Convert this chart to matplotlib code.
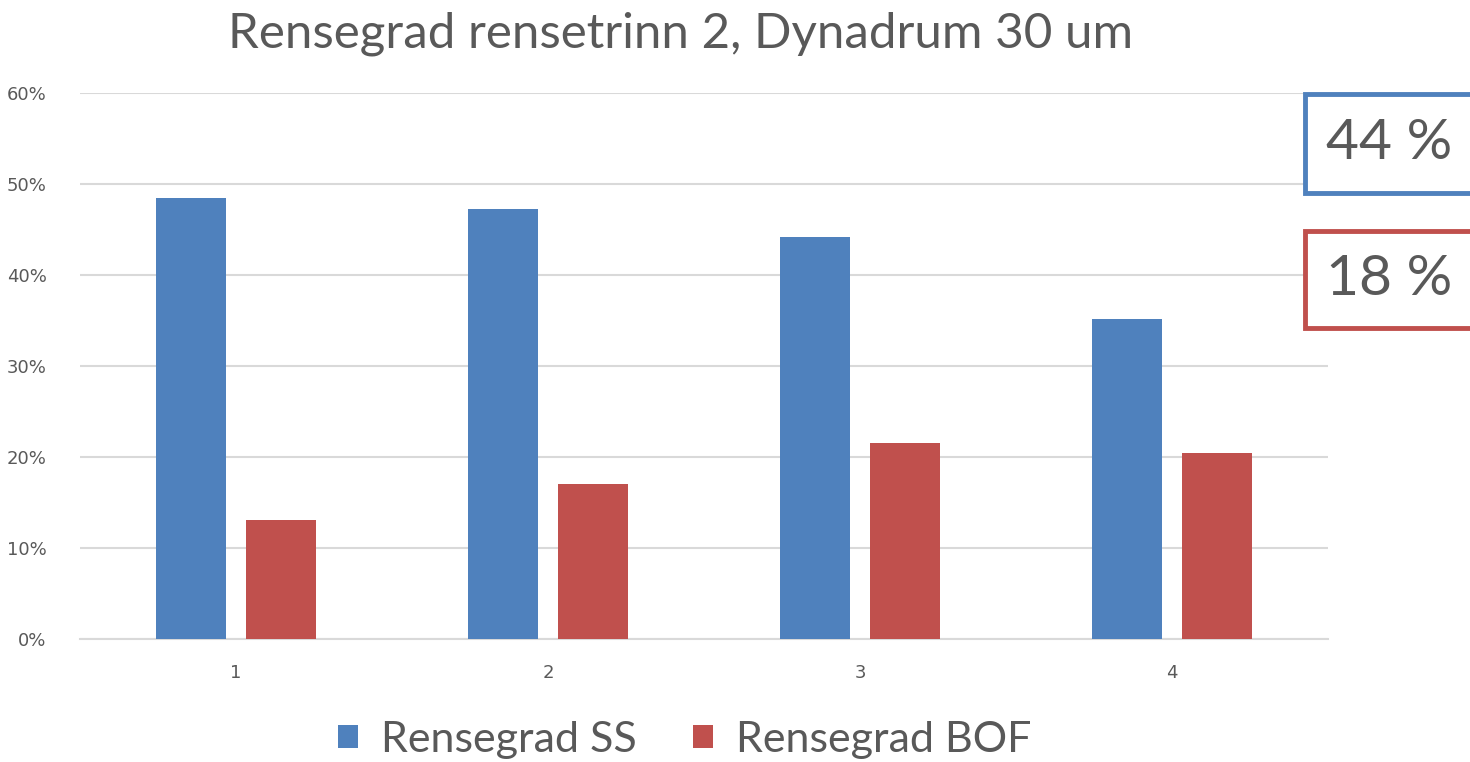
"""
Rensegrad rensetrinn 2 - bar chart recreation.
"""

import matplotlib
matplotlib.use("Agg")
import matplotlib.pyplot as plt
from matplotlib.patches import Rectangle
from matplotlib.ticker import PercentFormatter
import numpy as np


# ============================================================
# Data
# ============================================================

categories = ["1", "2", "3", "4"]
rensegrad_ss = [0.485, 0.473, 0.442, 0.352]
rensegrad_bof = [0.131, 0.170, 0.215, 0.204]
y_ticks = [0.0, 0.1, 0.2, 0.3, 0.4, 0.5, 0.6]

summary_labels = ["44 %", "18 %"]

BLUE = "#4f81bd"
RED = "#c0504d"
TEXT = "#595959"
GRID = "#d9d9d9"

TITLE_FONT = ["Lato", "DejaVu Sans"]


# ============================================================
# Plotting
# ============================================================

def main() -> None:
    fig = plt.figure(figsize=(14.7, 7.62), dpi=100)
    ax = fig.add_axes([80 / 1470, 1 - 639 / 762, 1248 / 1470, 546 / 762])

    x = np.arange(1, len(categories) + 1)
    width = 0.224
    offset = 0.143

    ax.bar(x - offset, rensegrad_ss, width, color=BLUE, label="Rensegrad SS", zorder=3)
    ax.bar(x + offset, rensegrad_bof, width, color=RED, label="Rensegrad BOF", zorder=3)

    ax.set_xlim(0.5, len(categories) + 0.5)
    ax.set_ylim(0, 0.6)
    ax.set_xticks(x)
    ax.set_xticklabels(categories)
    ax.set_yticks(y_ticks)
    ax.yaxis.set_major_formatter(PercentFormatter(1.0, decimals=0))

    ax.grid(axis="y", color=GRID, linewidth=1.5, zorder=0)
    for side in ["top", "right", "left"]:
        ax.spines[side].set_visible(False)
    ax.spines["bottom"].set_color(GRID)
    ax.spines["bottom"].set_linewidth(1.5)

    ax.tick_params(axis="both", length=0, labelsize=13, colors=TEXT)
    ax.tick_params(axis="y", pad=24)
    ax.tick_params(axis="x", pad=18)

    fig.text(0.463, 1 - 34 / 762, "Rensegrad rensetrinn 2, Dynadrum 30 um",
             ha="center", va="center", fontsize=35.5, color=TEXT, family=TITLE_FONT)

    leg = fig.legend(loc="center", bbox_to_anchor=(0.466, 1 - 740 / 762), ncol=2,
                     frameon=False, handlelength=0.45, handleheight=0.45,
                     handletextpad=0.55, columnspacing=1.3,
                     prop={"family": TITLE_FONT, "size": 31})
    for t in leg.get_texts():
        t.set_color(TEXT)

    # summary boxes on the right, running off the figure edge
    boxes = [(94, 193, BLUE, summary_labels[0]), (231, 328, RED, summary_labels[1])]
    for top, bottom, color, label in boxes:
        rect = Rectangle((1305 / 1470, 1 - bottom / 762), 0.2, (bottom - top) / 762,
                         transform=fig.transFigure, fill=True, facecolor="white",
                         edgecolor=color, linewidth=3.5, clip_on=False)
        fig.patches.append(rect)
        fig.text(1389 / 1470, 1 - (top + bottom) / 2 / 762, label, ha="center", va="center",
                 fontsize=41, color=TEXT, family=TITLE_FONT)

    fig.savefig("out.png", dpi=100)


if __name__ == "__main__":
    main()
